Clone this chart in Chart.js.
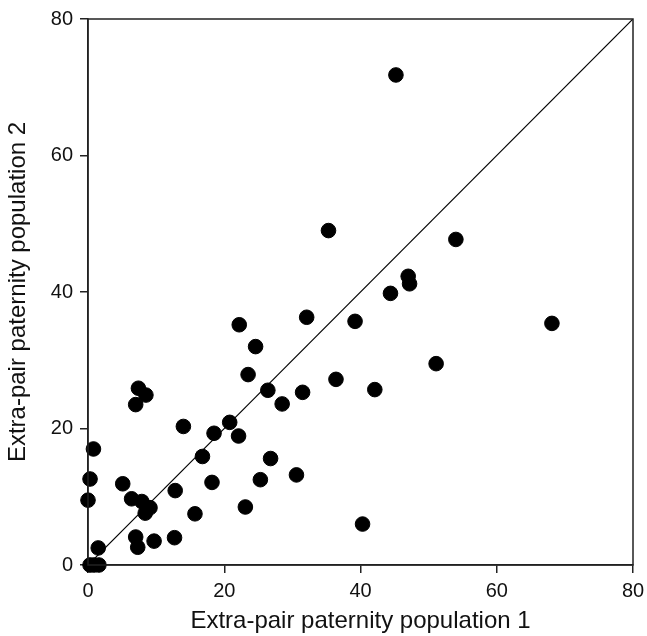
<!DOCTYPE html>
<html>
<head>
<meta charset="utf-8">
<script src="https://cdn.jsdelivr.net/npm/chart.js@4.4.0/dist/chart.umd.min.js"></script>
<style>
  html, body { margin: 0; padding: 0; background: #fff; }
  #wrap { width: 647px; height: 636px; }
</style>
</head>
<body>
<div id="wrap"><canvas id="chart"></canvas></div>
<script>
// extra-pair paternity (%)
const pop1 = [45.2, 35.3, 54.0, 47.0, 47.2, 44.4, 32.1, 39.2, 68.1, 22.2,
              24.6, 23.5, 51.1, 36.4, 26.4, 42.1, 31.5, 7.4, 8.5, 7.0,
              28.5, 14.0, 20.8, 18.5, 22.1, 0.8, 16.8, 26.8, 30.6, 0.3,
              25.3, 18.2, 5.1, 12.8, 6.4, 0.0, 7.9, 9.1, 23.1, 8.4,
              15.7, 40.3, 7.0, 12.7, 9.7, 7.3, 1.5, 0.3, 1.6, 0.9];
const pop2 = [71.8, 49.0, 47.7, 42.3, 41.2, 39.8, 36.3, 35.7, 35.4, 35.2,
              32.0, 27.9, 29.5, 27.2, 25.6, 25.7, 25.3, 25.9, 24.9, 23.5,
              23.6, 20.3, 20.9, 19.3, 18.9, 17.0, 15.9, 15.6, 13.2, 12.6,
              12.5, 12.1, 11.9, 10.9, 9.7, 9.5, 9.3, 8.4, 8.5, 7.6,
              7.5, 6.0, 4.1, 4.0, 3.5, 2.6, 2.5, 0.0, 0.0, 0.0];
const lineEnds = [0, 80];
const tickValues = [0, 20, 40, 60, 80];

const axisColor = '#222';

// box around the plot area (top and right sides have no ticks)
const frame = {
  id: 'frame',
  afterDraw(chart) {
    const { ctx, chartArea } = chart;
    ctx.save();
    ctx.strokeStyle = axisColor;
    ctx.lineWidth = 1.5;
    ctx.strokeRect(chartArea.left, chartArea.top,
      chartArea.right - chartArea.left, chartArea.bottom - chartArea.top);
    ctx.restore();
  }
};

const points = pop1.map((x, i) => ({ x: x, y: pop2[i] }));
const diagonal = lineEnds.map(v => ({ x: v, y: v }));

new Chart(document.getElementById('chart'), {
  type: 'scatter',
  data: {
    datasets: [{
      data: points,
      backgroundColor: '#000',
      borderColor: '#000',
      pointRadius: 7.3,
      pointHoverRadius: 7.3,
      clip: false
    }, {
      data: diagonal,
      showLine: true,
      borderColor: '#000',
      borderWidth: 1.2,
      pointRadius: 0,
      fill: false
    }]
  },
  options: {
    responsive: true,
    maintainAspectRatio: false,
    animation: false,
    layout: { padding: { top: 19, right: 14, left: 0, bottom: 0 } },
    plugins: {
      legend: { display: false },
      tooltip: { enabled: false }
    },
    scales: {
      x: {
        type: 'linear',
        min: 0, max: 80,
        afterBuildTicks: s => { s.ticks = tickValues.map(v => ({ value: v })); },
        afterFit: s => { s.height = 71; s.paddingRight = 0; s.paddingLeft = 0; },
        grid: { drawOnChartArea: false, tickLength: 8, color: axisColor, lineWidth: 1.5 },
        border: { display: true, color: axisColor, width: 1.5 },
        ticks: { color: '#111', padding: 6, maxRotation: 0,
                 font: { family: 'Liberation Sans, Arial, sans-serif', size: 20 } },
        title: {
          display: true,
          text: 'Extra-pair paternity population 1',
          color: '#111',
          padding: { top: 4, bottom: 0 },
          font: { family: 'Liberation Sans, Arial, sans-serif', size: 24 }
        }
      },
      y: {
        type: 'linear',
        min: 0, max: 80,
        afterBuildTicks: s => { s.ticks = tickValues.map(v => ({ value: v })); },
        afterFit: s => { s.width = 88; s.paddingTop = 0; s.paddingBottom = 0; },
        grid: { drawOnChartArea: false, tickLength: 8, color: axisColor, lineWidth: 1.5 },
        border: { display: true, color: axisColor, width: 1.5 },
        ticks: { color: '#111', padding: 7,
                 font: { family: 'Liberation Sans, Arial, sans-serif', size: 20 } },
        title: {
          display: true,
          text: 'Extra-pair paternity population 2',
          color: '#111',
          padding: { top: 4, bottom: 0 },
          font: { family: 'Liberation Sans, Arial, sans-serif', size: 24 }
        }
      }
    }
  },
  plugins: [frame]
});
</script>
</body>
</html>
